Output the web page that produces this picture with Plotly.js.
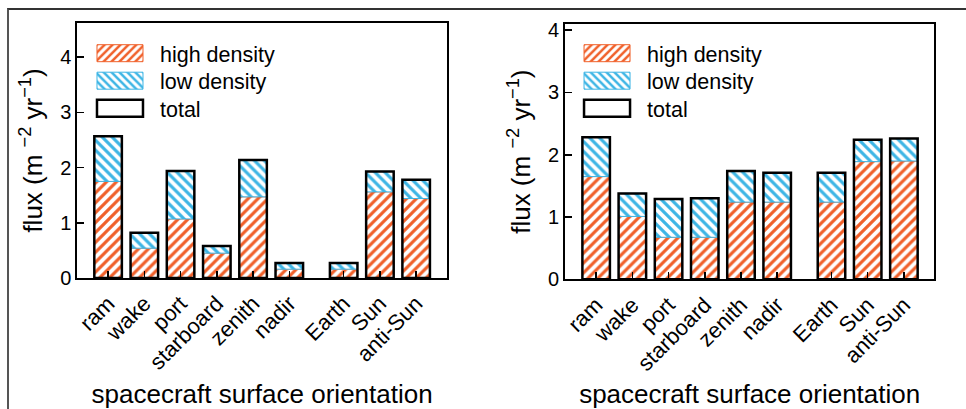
<!DOCTYPE html>
<html><head><meta charset="utf-8">
<script src="https://cdn.plot.ly/plotly-3.0.1.min.js"></script>
<style>
html,body{margin:0;padding:0;background:#fff;}
#wrap{position:relative;width:966px;height:409px;overflow:hidden;}
#chart{width:966px;height:409px;}
#frame{position:absolute;left:7px;top:8px;right:-5px;bottom:-5px;border-top:2px solid #333;border-left:2px solid #555;pointer-events:none;}
</style>
</head><body>
<div id="wrap"><div id="chart"></div><div id="frame"></div></div>
<script>
// ---- data ----
const categories = ['ram','wake','port','starboard','zenith','nadir','Earth','Sun','anti-Sun'];
const leftHigh  = [1.75, 0.54, 1.07, 0.45, 1.47, 0.16, 0.16, 1.56, 1.44];
const leftLow   = [0.82, 0.28, 0.87, 0.13, 0.67, 0.11, 0.11, 0.37, 0.34];
const rightHigh = [1.65, 1.01, 0.675, 0.675, 1.24, 1.24, 1.24, 1.89, 1.90];
const rightLow  = [0.63, 0.37, 0.615, 0.625, 0.50, 0.47, 0.47, 0.35, 0.36];
const seriesNames = ['high density', 'low density', 'total'];
const xTitle = 'spacecraft surface orientation';
const yTitle = 'flux (m <sup>−2</sup> yr<sup>−1</sup>)';

// ---- layout helpers ----
const groupStart = 6, groupGap = 0.5;   // gap between body faces and Sun/Earth faces
const positions = categories.map((c, i) => i + (i >= groupStart ? groupGap : 0));
const ORANGE = '#F0602A', BLUE = '#3DB5E5';
const FONT = 'Liberation Sans, Arial, Helvetica, sans-serif';
const BW = 0.76;

function makeTraces(high, low, xa, ya, lg) {
  const total = high.map((h, i) => h + low[i]);
  return [
    {type:'bar', name:seriesNames[0], x:positions, y:high, width:BW, xaxis:xa, yaxis:ya, legend:lg,
     marker:{color:'white', line:{color:ORANGE, width:1},
             pattern:{shape:'/', fgcolor:ORANGE, bgcolor:'white', size:7, solidity:0.45}}},
    {type:'bar', name:seriesNames[1], x:positions, y:low, base:high, width:BW, xaxis:xa, yaxis:ya, legend:lg,
     marker:{color:'white', line:{color:BLUE, width:1},
             pattern:{shape:'\\', fgcolor:BLUE, bgcolor:'white', size:7, solidity:0.45}}},
    {type:'bar', name:seriesNames[2], x:positions, y:total, width:BW, xaxis:xa, yaxis:ya, legend:lg,
     marker:{color:'rgba(0,0,0,0)', line:{color:'black', width:2.5}}}
  ];
}

const data = makeTraces(leftHigh, leftLow, 'x', 'y', 'legend')
  .concat(makeTraces(rightHigh, rightLow, 'x2', 'y2', 'legend2'));

function xAxis(domain, range, anchor) {
  return {domain, range, anchor, tickvals:positions, ticktext:categories, tickangle:-45,
    ticks:'inside', ticklen:7, tickwidth:1.5, tickcolor:'black',
    showline:true, mirror:true, linewidth:2, linecolor:'black', showgrid:false, zeroline:false,
    tickfont:{size:22, color:'black'}, ticklabelstandoff:2,
    title:{text:xTitle, font:{size:26, color:'black'}, standoff:16}};
}
function yAxis(domain, range, anchor) {
  return {domain, range, anchor, dtick:1, tick0:0,
    ticks:'inside', ticklen:7, tickwidth:1.5, tickcolor:'black',
    showline:true, mirror:true, linewidth:2, linecolor:'black', showgrid:false, zeroline:false,
    tickfont:{size:20, color:'black'},
    title:{text:yTitle, font:{size:26, color:'black'}, standoff:10}};
}
function legendBox(x, y) {
  return {x, y, xanchor:'left', yanchor:'top', bgcolor:'rgba(0,0,0,0)', borderwidth:0,
    font:{size:21.5, color:'black'}, itemwidth:70, tracegroupgap:0};
}

const layout = {
  width:966, height:409, margin:{l:0, r:0, t:0, b:0},
  paper_bgcolor:'white', plot_bgcolor:'white',
  font:{family:FONT, color:'black'},
  barmode:'overlay', showlegend:true,
  xaxis: xAxis([0.080, 0.4627], [-0.85, 9.35], 'y'),
  yaxis: yAxis([0.3203, 0.9438], [0, 4.62], 'x'),
  xaxis2: xAxis([0.5849, 0.9672], [-0.86, 9.34], 'y2'),
  yaxis2: yAxis([0.3171, 0.9413], [0, 4.1], 'x2'),
  legend: legendBox(0.0828, 0.92),
  legend2: legendBox(0.587, 0.92)
};

Plotly.newPlot('chart', data, layout, {staticPlot:true, displayModeBar:false}).then(function(gd){
  // widen legend swatches like the reference
  gd.querySelectorAll('.legendpoints path').forEach(function(p){
    p.setAttribute('d', 'M23,8.5H-23V-8.5H23Z');
  });
  // tighten legend row spacing to match the reference
  gd.querySelectorAll('g.legend, g.legend2').forEach(function(lg){
    const items = lg.querySelectorAll('g.traces');
    let y0 = null;
    items.forEach(function(it, i){
      const t = it.getAttribute('transform') || '';
      const m = t.match(/translate\(\s*([-\d.]+)[ ,]+([-\d.]+)\s*\)/);
      if (!m) return;
      const x = parseFloat(m[1]), y = parseFloat(m[2]);
      if (y0 === null) y0 = y;
      it.setAttribute('transform', 'translate(' + x + ',' + (y0 + i * 27.5) + ')');
    });
  });
});
</script>
</body></html>
